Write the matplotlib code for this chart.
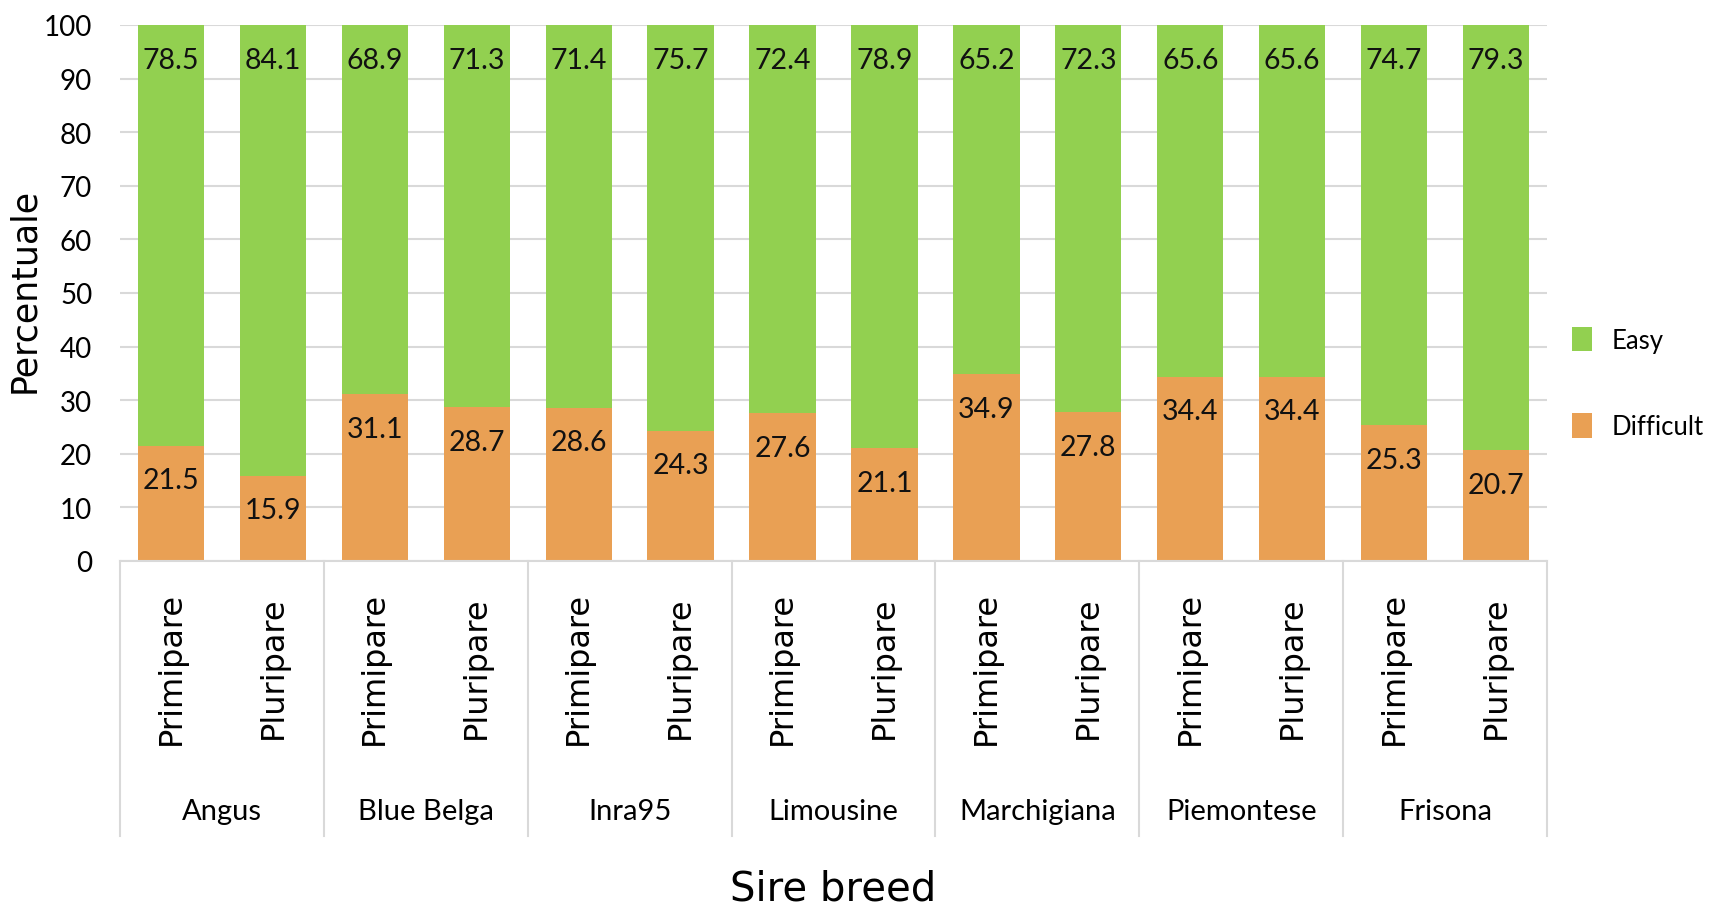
import matplotlib
matplotlib.use("Agg")
import matplotlib.pyplot as plt
from matplotlib.patches import Patch
import matplotlib.transforms as mtransforms
import numpy as np

breeds = ["Angus", "Blue Belga", "Inra95", "Limousine", "Marchigiana", "Piemontese", "Frisona"]
parity = ["Primipare", "Pluripare"]
difficult = [21.5, 15.9, 31.1, 28.7, 28.6, 24.3, 27.6, 21.1, 34.9, 27.8, 34.4, 34.4, 25.3, 20.7]
easy = [78.5, 84.1, 68.9, 71.3, 71.4, 75.7, 72.4, 78.9, 65.2, 72.3, 65.6, 65.6, 74.7, 79.3]
yticks = [0, 10, 20, 30, 40, 50, 60, 70, 80, 90, 100]

GREEN = "#92D050"
ORANGE = "#E9A054"
GRID = "#D9D9D9"
NARROW = ["Lato", "DejaVu Sans"]
WIDE = ["DejaVu Sans"]

W, H = 1709, 912
fig = plt.figure(figsize=(W / 100, H / 100), dpi=100)
ax = fig.add_axes([120 / W, 1 - 562 / H, (1547 - 120) / W, (562 - 26) / H])

n = len(difficult)
x = np.arange(n)
bw = 0.65
d = np.array(difficult)
e = np.array(easy)
ax.bar(x, d, bw, color=ORANGE, zorder=2, label="Difficult")
ax.bar(x, e, bw, bottom=d, color=GREEN, zorder=2, label="Easy")

for xi, di, ei in zip(x, d, e):
    ax.annotate(f"{ei:.1f}", (xi, min(di + ei, 100)), xytext=(0, -25), textcoords="offset points",
                ha="center", va="center", fontsize=20.5, family=NARROW, color="#111111",
                zorder=3, annotation_clip=False)
    ax.annotate(f"{di:.1f}", (xi, di), xytext=(0, -25), textcoords="offset points",
                ha="center", va="center", fontsize=20.5, family=NARROW, color="#111111",
                zorder=3, annotation_clip=False)

ax.set_xlim(-0.5, n - 0.5)
ax.set_ylim(0, 100)
ax.set_yticks(yticks)
ax.set_yticklabels([str(t) for t in yticks], family=NARROW, fontsize=20)
ax.tick_params(axis="y", length=0, pad=20)
ax.set_xticks([])
ax.grid(axis="y", color=GRID, linewidth=1.5, zorder=0)
for s in ["top", "right", "left"]:
    ax.spines[s].set_visible(False)
ax.spines["bottom"].set_color(GRID)
ax.spines["bottom"].set_linewidth(1.5)

trans = mtransforms.blended_transform_factory(ax.transData, ax.transAxes)
for b in range(len(breeds) + 1):
    xb = -0.5 + 2 * b
    ax.plot([xb, xb], [0, -0.513], transform=trans, color=GRID, lw=1.5, clip_on=False)

for i in range(n):
    ax.text(x[i], -0.198, parity[i % 2], transform=trans, rotation=90, ha="center", va="center",
            fontsize=23, family=WIDE, color="black")
for b, name in enumerate(breeds):
    ax.text(2 * b + 0.5, -0.466, name, transform=trans, ha="center", va="center",
            fontsize=21, family=NARROW, color="black")

fig.text(833 / W, 1 - 890 / H, "Sire breed", ha="center", va="center", fontsize=29,
         family=WIDE, color="black")
fig.text(24 / W, 1 - 290 / H, "Percentuale", ha="center", va="center", rotation=90,
         fontsize=25, family=WIDE, color="black")

handles = [Patch(facecolor=GREEN, label="Easy"), Patch(facecolor=ORANGE, label="Difficult")]
fig.legend(handles=handles, loc="center left", bbox_to_anchor=(1562 / W, 1 - 384 / H),
           frameon=False, prop={"family": NARROW, "size": 18.5}, handlelength=0.75,
           handleheight=1.1, handletextpad=0.8, labelspacing=2.35, borderaxespad=0)

fig.savefig("out.png", dpi=100)
